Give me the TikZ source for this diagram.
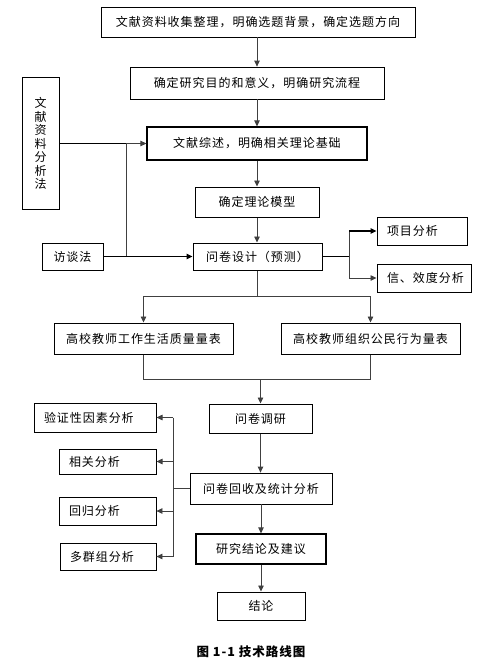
\documentclass[tikz,border=0pt]{standalone}
\usepackage{fontspec}
\setmainfont{Noto Sans CJK SC}[LetterSpace=8]
\usetikzlibrary{arrows.meta}
\begin{document}
\begin{tikzpicture}[x=1pt,y=-1pt,
  box/.style={draw=black,line width=1pt,inner sep=0pt,font=\fontsize{12}{14}\selectfont},
  lbox/.style={box,align=left,inner xsep=10pt},
  conn/.style={draw=black!75,line width=0.8pt},
  thick conn/.style={draw=black,line width=1.3pt},
  arr/.style={-{Triangle[length=6pt,width=5.5pt]}}]
\useasboundingbox (0,0) rectangle (488,662);
\node[box,minimum width=314pt,minimum height=30pt,line width=0.8pt] (top) at (258,22) {文献资料收集整理，明确选题背景，确定选题方向};
\node[box,minimum width=254pt,minimum height=32pt,line width=0.8pt] (b2) at (257,83) {确定研究目的和意义，明确研究流程};
\node[box,minimum width=220pt,minimum height=33pt,line width=1.2pt] (b3) at (257,143.5) {文献综述，明确相关理论基础};
\node[box,minimum width=37pt,minimum height=132pt,align=center,font=\fontsize{12}{13.5}\selectfont] (lit) at (40.5,143.5) {文\\献\\资\\料\\分\\析\\法};
\node[box,minimum width=124pt,minimum height=30pt] (model) at (257,202) {确定理论模型};
\node[box,minimum width=61pt,minimum height=27pt] (intv) at (72.5,256.5) {访谈法};
\node[box,minimum width=129pt,minimum height=27pt] (design) at (257.5,256.5) {问卷设计（预测）};
\node[lbox,text width=70pt,minimum height=28pt] (item) at (422,231) {项目分析};
\node[lbox,text width=74pt,minimum height=28pt] (rel) at (424,278) {信、效度分析};
\node[box,minimum width=179pt,minimum height=31pt] (s1) at (143.5,338.5) {高校教师工作生活质量量表};
\node[box,minimum width=179pt,minimum height=31pt] (s2) at (370.5,338.5) {高校教师组织公民行为量表};
\node[box,minimum width=103pt,minimum height=29pt] (survey) at (260.5,418.5) {问卷调研};
\node[box,minimum width=142pt,minimum height=31pt,line width=0.8pt] (collect) at (261,488.5) {问卷回收及统计分析};
\node[box,minimum width=130pt,minimum height=30pt,line width=1.2pt] (concl) at (261,549) {研究结论及建议};
\node[box,minimum width=88pt,minimum height=28pt] (final) at (261,606) {结论};
\node[lbox,text width=102pt,minimum height=29pt] (cfa) at (95,417.5) {验证性因素分析};
\node[lbox,text width=77pt,minimum height=25pt] (corr) at (107.5,461.5) {相关分析};
\node[lbox,text width=77pt,minimum height=28pt,line width=0.8pt] (reg) at (107.5,511) {回归分析};
\node[lbox,text width=76pt,minimum height=27pt,line width=0.8pt] (mg) at (108,556.5) {多群组分析};
\node[font=\fontsize{12.5}{14}\selectfont\bfseries] (cap) at (251,652) {图 1-1 技术路线图};
% main flow
\draw[conn,arr] (top.south -| b2) -- (b2.north);
\draw[conn,arr] (b2.south) -- (b3.north);
\draw[conn,arr] (b3.south) -- (model.north);
\draw[conn,arr] (model.south) -- (design.north -| model);
% left inputs
\coordinate (j1) at (126,143.5);
\coordinate (j2) at (126,256.5);
\draw[thick conn] (lit.east) -- (j1);
\draw[conn,arr] (j1) -- (b3.west);
\draw[conn] (j2) -- (j1);
\draw[thick conn,arr] (intv.east) -- (design.west);
% right branch
\coordinate (r) at (349,256.5);
\draw[thick conn] (design.east) -- (r);
\draw[conn] (r |- item) -- (r |- rel);
\draw[thick conn,arr] (r |- item) -- (item.west);
\draw[conn,arr] (r |- rel) -- (rel.west);
% down to scales
\coordinate (d) at (257.5,296);
\draw[conn] (design.south) -- (d);
\draw[conn,arr] (d) -| (s1.north);
\draw[conn,arr] (d) -| (s2.north);
% scales to survey
\coordinate (m) at (260.5,379);
\draw[conn] (s1.south) |- (m);
\draw[conn] (s2.south) |- (m);
\draw[conn,arr] (m) -- (survey.north);
\draw[conn,arr] (survey.south) -- (collect.north -| survey);
\draw[conn,arr] (collect.south) -- (concl.north);
\draw[conn,arr] (concl.south) -- (final.north);
% left analyses
\coordinate (lb) at (173,488.5);
\draw[conn] (collect.west) -- (lb);
\draw[conn] (lb |- cfa) -- (lb |- mg);
\draw[conn,arr] (lb |- cfa) -- (cfa.east);
\draw[conn,arr] (lb |- corr) -- (corr.east);
\draw[conn,arr] (lb |- reg) -- (reg.east);
\draw[conn,arr] (lb |- mg) -- (mg.east);
\end{tikzpicture}
\end{document}
